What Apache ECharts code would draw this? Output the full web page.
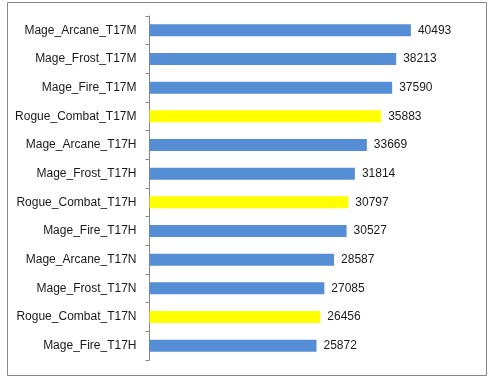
<!DOCTYPE html>
<html>
<head>
<meta charset="utf-8">
<script src="https://cdn.jsdelivr.net/npm/echarts@6/dist/echarts.min.js"></script>
<style>
html,body{margin:0;padding:0;background:#fff;}
#c{width:489px;height:382px;}
</style>
</head>
<body>
<div id="c"></div>
<script>
const categories = ['Mage_Arcane_T17M','Mage_Frost_T17M','Mage_Fire_T17M','Rogue_Combat_T17M','Mage_Arcane_T17H','Mage_Frost_T17H','Rogue_Combat_T17H','Mage_Fire_T17H','Mage_Arcane_T17N','Mage_Frost_T17N','Rogue_Combat_T17N','Mage_Fire_T17H'];
const values = [40493,38213,37590,35883,33669,31814,30797,30527,28587,27085,26456,25872];
const highlight = [false,false,false,true,false,false,true,false,false,false,true,false];

const chart = echarts.init(document.getElementById('c'), null, {renderer:'canvas'});
chart.setOption({
  animation:false,
  backgroundColor:'#fff',
  graphic:[{type:'rect',shape:{x:7.5,y:2.5,width:479,height:373},style:{fill:'none',stroke:'#888',lineWidth:1},z:-1}],
  grid:{left:149.5,top:16,bottom:22,right:49,containLabel:false},
  xAxis:{type:'value',min:0,max:45000,show:false,splitLine:{show:false}},
  yAxis:{type:'category',data:categories,inverse:true,
    axisLine:{show:true,lineStyle:{color:'#868686',width:1}},
    axisTick:{show:true,length:4,lineStyle:{color:'#868686'}},
    axisLabel:{margin:13,color:'#1a1a1a',fontFamily:'Liberation Sans',fontSize:12,interval:0}},
  series:[{type:'bar',barWidth:12,
    data:values.map((v,i)=>({value:v,itemStyle:{color:highlight[i]?'#FFFF00':'#558ED5'}})),
    label:{show:true,position:'right',distance:7,color:'#1a1a1a',fontFamily:'Liberation Sans',fontSize:12}}]
});
</script>
</body>
</html>
